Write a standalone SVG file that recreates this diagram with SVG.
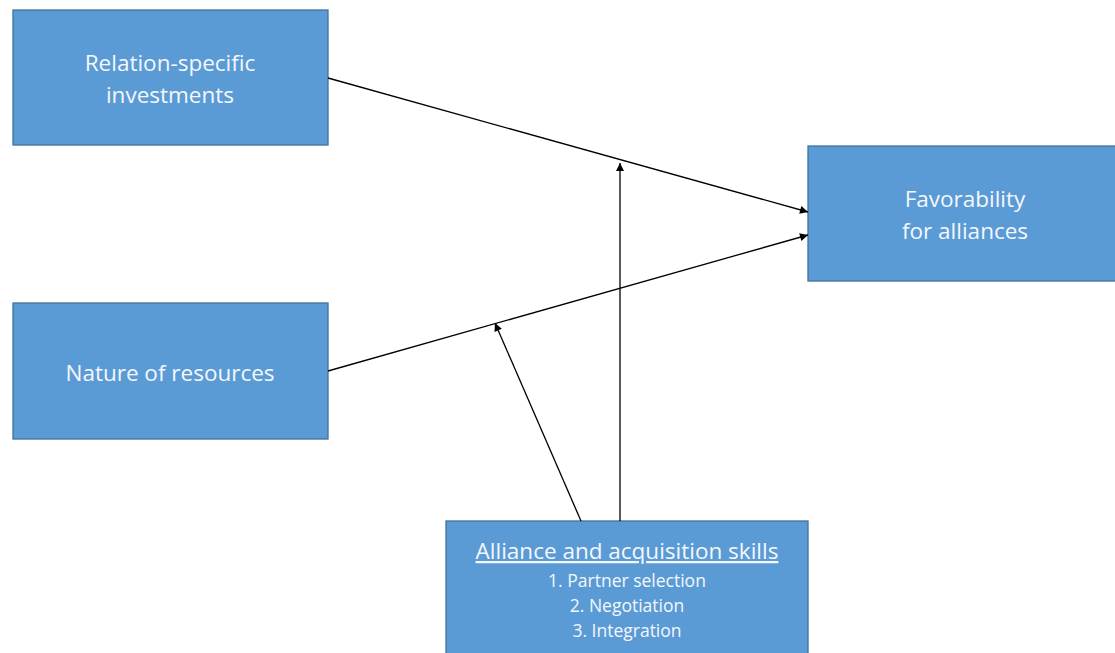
<svg xmlns="http://www.w3.org/2000/svg" width="1115" height="653" viewBox="0 0 1115 653">
<style>
.box{fill:#5B9BD5;stroke:#41719C;stroke-width:1.3}
.t{font-family:"Open Sans","Liberation Sans",Arial,sans-serif;fill:#F4F7FB;text-anchor:middle;font-size:22.5px}
.s{font-size:17.5px}
.c{stroke:#000;stroke-width:1.3;fill:none;marker-end:url(#ah)}
</style>
<defs>
<marker id="ah" viewBox="0 0 10 10" refX="10" refY="5" markerWidth="9" markerHeight="8" markerUnits="userSpaceOnUse" orient="auto">
<path d="M0,0 L10,5 L0,10 z" fill="#000"/>
</marker>
</defs>
<rect width="1115" height="653" fill="#ffffff"/>
<g id="n1">
<rect class="box" x="13" y="10" width="315" height="135"/>
<text class="t" x="170" y="71">Relation-specific</text>
<text class="t" x="170" y="103">investments</text>
</g>
<g id="n2">
<rect class="box" x="13" y="303" width="315" height="136"/>
<text class="t" x="170" y="381">Nature of resources</text>
</g>
<g id="n3">
<rect class="box" x="808" y="146" width="310" height="135"/>
<text class="t" x="965" y="207">Favorability</text>
<text class="t" x="965" y="239">for alliances</text>
</g>
<g id="n4">
<rect class="box" x="446" y="521" width="362" height="140"/>
<text class="t" x="627" y="559" text-decoration="underline">Alliance and acquisition skills</text>
<text class="t s" x="627" y="587">1. Partner selection</text>
<text class="t s" x="627" y="612">2. Negotiation</text>
<text class="t s" x="627" y="637">3. Integration</text>
</g>
<g id="connectors">
<line class="c" x1="328" y1="78" x2="808" y2="212"/>
<line class="c" x1="328" y1="371" x2="808" y2="235"/>
<line class="c" x1="620" y1="521" x2="620" y2="163"/>
<line class="c" x1="581" y1="521" x2="495" y2="323"/>
</g>
</svg>
